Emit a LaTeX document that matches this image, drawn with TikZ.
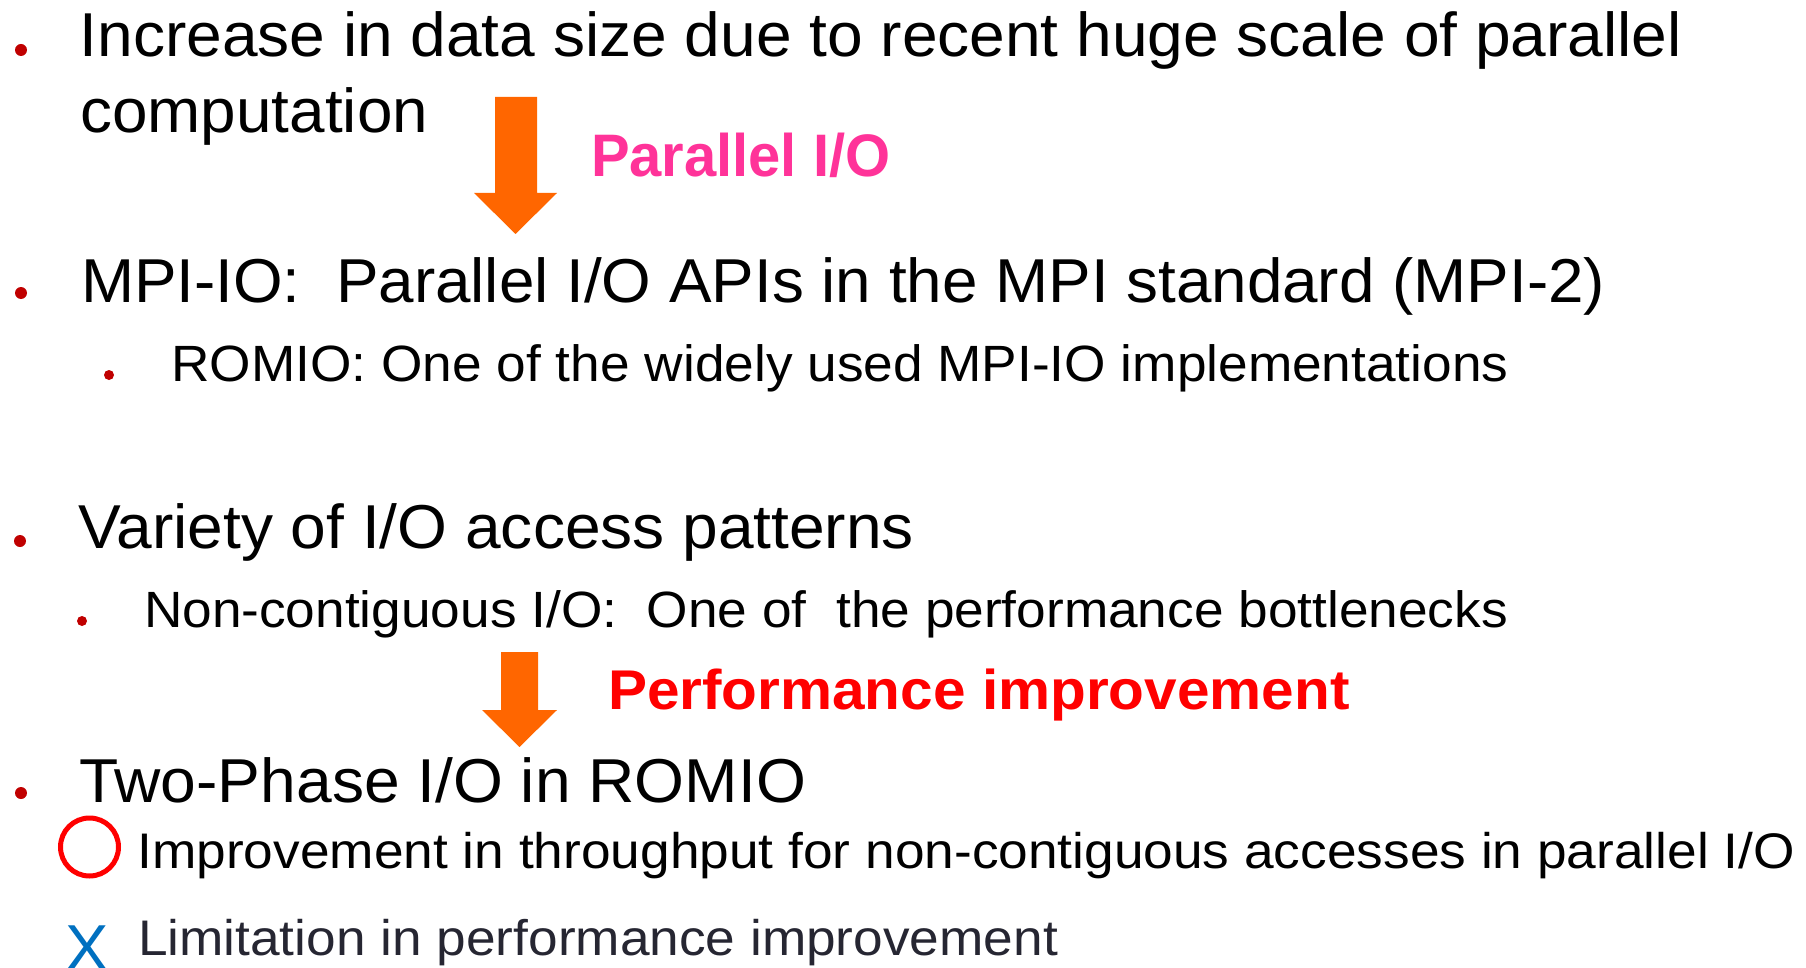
\documentclass[tikz,border=0pt]{standalone}
\usepackage{fontspec}
\setmainfont{Liberation Sans}
\usepackage{graphicx}

\definecolor{bulletred}{HTML}{C00000}
\definecolor{arroworange}{HTML}{FF6600}
\definecolor{iopink}{HTML}{FF3399}
\definecolor{perfred}{HTML}{FF0000}
\definecolor{crossblue}{HTML}{0070C0}
\definecolor{limitgray}{HTML}{262632}

% stretch a line of text horizontally to a given width (in pt), keeping its height
\newcommand{\fitw}[2]{\resizebox{#1pt}{\height}{#2}}

\begin{document}
\begin{tikzpicture}[x=1pt,y=-1pt,
  txt/.style={anchor=base west, inner sep=0pt, outer sep=0pt},
  lvlone/.style={txt, font=\fontsize{62}{74}\selectfont},
  lvltwo/.style={txt, font=\fontsize{51}{61}\selectfont},
  note/.style={txt, font=\fontsize{50}{60}\selectfont},
  dot/.style={circle, fill=bulletred, inner sep=0pt, outer sep=0pt, minimum size=#1},
  blockarrow/.style={fill=arroworange}]

\useasboundingbox (0,0) rectangle (1806,968);

% bullets
\node[dot=12pt] (b1) at (21,50) {};
\node[dot=12pt] (b2) at (21,293) {};
\node[dot=10pt] (b3) at (109,375) {};
\node[dot=12pt] (b4) at (20,541) {};
\node[dot=10pt] (b5) at (82,621) {};
\node[dot=12pt] (b6) at (21,793) {};

% first item
\node[lvlone] (t1) at (79.6,57) {\fitw{1602.4}{Increase in data size due to recent huge scale of parallel}};
\node[lvlone] (t1b) at (80.5,133) {\fitw{347.5}{computation}};

% arrow 1 and its label
\fill[blockarrow] (495,97) -- (537,97) -- (537,193) -- (557,193) -- (515.5,234)
  -- (474,193) -- (495,193) -- cycle;
\node[txt, font=\fontsize{60}{72}\selectfont\bfseries, text=iopink] (pio) at (591,177)
  {\fitw{299.4}{Parallel I/O}};

% MPI-IO
\node[lvlone] (t2) at (81,302) {\fitw{1524}{MPI-IO: \ Parallel I/O APIs in the MPI standard (MPI-2)}};
\node[lvltwo] (t3) at (171.5,381) {\fitw{1337}{ROMIO: One of the widely used MPI-IO implementations}};

% access patterns
\node[lvlone] (t4) at (78.5,548) {\fitw{835.5}{Variety of I/O access patterns}};
\node[lvltwo] (t5) at (144,627) {\fitw{1364}{Non-contiguous I/O: \ One of \ the performance bottlenecks}};

% arrow 2 and its label
\fill[blockarrow] (501,652) -- (538,652) -- (538,710) -- (557,710) -- (519.5,747)
  -- (482,710) -- (501,710) -- cycle;
\node[txt, font=\fontsize{56}{67}\selectfont\bfseries, text=perfred] (perf) at (608,709)
  {\fitw{741.6}{Performance improvement}};

% two-phase I/O
\node[lvlone] (t6) at (79,802) {\fitw{727}{Two-Phase I/O in ROMIO}};

% merit
\node[circle, draw=perfred, line width=5pt, minimum size=58pt, inner sep=0pt] (good) at (89.5,847) {};
\node[note] (t7) at (137.5,868) {\fitw{1657.5}{Improvement in throughput for non-contiguous accesses in parallel I/O}};

% limitation
\node[txt, font=\fontsize{65}{78}\selectfont, text=crossblue] (bad) at (65,970) {X};
\node[note, text=limitgray] (t8) at (138,955) {\fitw{920}{Limitation in performance improvement}};

\end{tikzpicture}
\end{document}
